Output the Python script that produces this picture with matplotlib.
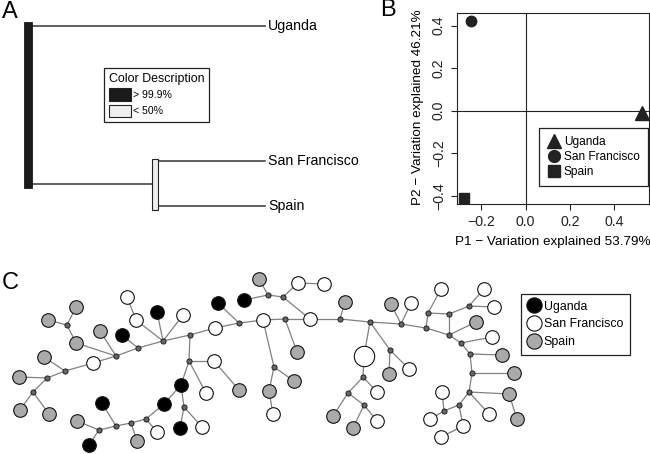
import matplotlib.pyplot as plt
from matplotlib.patches import Rectangle, Patch
from matplotlib.lines import Line2D
from matplotlib.collections import LineCollection

plt.rcParams['font.family'] = ['Liberation Sans', 'DejaVu Sans']

W, H = 650, 454

## A: tree (branch lengths, tip slots)
tip_names = ["Uganda", "San Francisco", "Spain"]
tip_slot = [0, 3, 4]
tip_len = [1.0, 1.0, 1.0]
clade_x = 0.515
clade_slot = 3.5
support_labels = ["> 99.9%", "< 50%"]
support_colors = ["#1a1a1a", "#eeeeee"]

## B: PCA
pca_groups = ["Uganda", "San Francisco", "Spain"]
pc1 = [0.525, -0.247, -0.277]
pc2 = [-0.010, 0.424, -0.410]
pca_markers = ["^", "o", "s"]
pc1_var = 53.79
pc2_var = 46.21

## C: haplotype network  (g=Spain, w=San Francisco, b=Uganda, s=median vector, W=big SF)
node_x = [76, 48, 67, 76, 100, 122, 127, 136, 157, 163, 138, 116, 93, 44, 65, 47, 19, 33, 20, 49,
          102, 77, 99, 89, 116, 137, 131, 146, 157, 164, 183, 190, 215, 239, 263, 285, 310, 189, 214, 239,
          181, 206, 184, 180, 202, 218, 244, 259, 268, 283, 298, 324, 297, 274, 294, 269, 273, 340, 345, 370,
          364, 363, 377, 348, 333, 364, 353, 377, 390, 389, 409, 401, 391, 411, 426, 428, 441, 449, 469, 484,
          494, 449, 476, 461, 492, 470, 502, 472, 514, 469, 509, 517, 489, 459, 444, 442, 430, 463, 441]
node_y = [307, 320, 325, 343, 331, 335, 297, 320, 312, 341, 348, 356, 363, 357, 371, 378, 377, 392, 410, 414,
          403, 421, 430, 445, 426, 441, 423, 419, 432, 404, 315, 335, 328, 323, 320, 319, 319, 361, 361, 390,
          385, 393, 407, 428, 427, 303, 300, 279, 295, 297, 283, 284, 352, 367, 381, 391, 414, 319, 302, 322,
          356, 377, 392, 393, 416, 405, 428, 421, 350, 374, 369, 324, 304, 303, 328, 313, 289, 314, 306, 289,
          307, 335, 322, 343, 337, 354, 355, 373, 373, 392, 394, 419, 414, 405, 411, 392, 419, 426, 437]
node_kind = list("ggsggbwwbs" "sswgssgsgg" "bgsbsgsswb" "wswswswswg" "bwsbwbbgss"
                 "wwgsggwsgs" "Wswsgsgwsg" "wsgwsswssw" "wsgswsgsgs" "ggwsswwww")
edges = [(0, 2), (1, 2), (2, 3), (3, 11), (4, 11), (5, 10), (12, 11), (11, 10), (10, 9), (9, 7), (7, 6),
         (9, 8), (9, 30), (9, 31), (12, 14), (14, 13), (14, 15), (15, 16), (15, 17), (17, 18), (17, 19),
         (31, 32), (32, 33), (33, 34), (34, 35), (35, 36), (36, 57), (57, 59), (59, 71), (71, 74), (74, 81),
         (81, 83), (83, 85), (85, 87), (87, 89), (89, 93), (93, 94),
         (31, 37), (37, 38), (38, 39), (37, 41), (37, 40), (40, 29), (40, 42), (42, 43), (42, 44),
         (29, 27), (27, 26), (26, 24), (24, 22), (27, 28), (26, 25), (24, 20), (22, 21), (22, 23),
         (33, 45), (46, 48), (47, 48), (48, 49), (49, 50), (50, 51), (49, 36),
         (34, 53), (53, 55), (55, 56), (53, 54), (35, 52),
         (57, 58), (59, 60), (60, 61), (61, 62), (61, 63), (63, 64), (63, 65), (65, 66), (65, 67),
         (59, 68), (68, 69), (68, 70), (71, 72), (71, 73),
         (74, 75), (75, 76), (75, 77), (77, 81), (77, 78), (78, 79), (78, 80), (81, 82), (83, 84),
         (85, 86), (87, 88), (89, 90), (90, 91), (89, 92), (93, 97), (97, 98), (94, 95), (94, 96)]
net_groups = ["Uganda", "San Francisco", "Spain"]

fig = plt.figure(figsize=(W / 100, H / 100), dpi=100)


def px_axes(x0, y0, x1, y1):
    return fig.add_axes([x0 / W, 1 - y1 / H, (x1 - x0) / W, (y1 - y0) / H])


line_col = "#333333"

##### A
axA = px_axes(0, 0, 330, 230)
axA.set_xlim(-32 / 233, 298 / 233)
axA.set_ylim((230 - 26) / 45, -26 / 45)
axA.axis("off")

bw_root, bw_clade = 8 / 233, 6 / 233
# uganda branch
axA.plot([0, tip_len[0]], [tip_slot[0], tip_slot[0]], color=line_col, lw=1.1)
# clade stem
axA.plot([0, clade_x], [clade_slot, clade_slot], color=line_col, lw=1.1)
for i in (1, 2):
    axA.plot([clade_x + bw_clade, tip_len[i]], [tip_slot[i], tip_slot[i]], color=line_col, lw=1.1)
for i, name in enumerate(tip_names):
    axA.text(tip_len[i] + 3 / 233, tip_slot[i], name, ha="left", va="center", fontsize=10.2)
axA.add_patch(Rectangle((-bw_root, tip_slot[0] - 0.09), bw_root, clade_slot + 0.19,
                        fc=support_colors[0], ec=support_colors[0], lw=0.6, zorder=3))
axA.add_patch(Rectangle((clade_x, tip_slot[1] - 0.045), bw_clade, tip_slot[2] - tip_slot[1] + 0.135,
                        fc=support_colors[1], ec="#222222", lw=0.8, zorder=3))

handlesA = [Patch(fc=c, ec="#222222", lw=0.8) for c in support_colors]
legA = axA.legend(handlesA, support_labels, title="Color Description", loc="upper left",
                  bbox_to_anchor=(104 / 330, 1 - 68 / 230), borderaxespad=0, fontsize=7.6,
                  title_fontsize=8.9, alignment="left", fancybox=False, edgecolor="#222222",
                  framealpha=1, handlelength=2.1, handleheight=1.45, handletextpad=0.2,
                  labelspacing=0.35, borderpad=0.45)
legA.get_frame().set_linewidth(0.9)

##### B
axB = px_axes(457, 13, 649, 204)
axB.set_xlim(-0.309, 0.557)
axB.set_ylim(-0.439, 0.46)
axB.axvline(0, color="#222222", lw=0.8)
axB.axhline(0, color="#222222", lw=0.8)
for x, y, m in zip(pc1, pc2, pca_markers):
    axB.plot(x, y, marker=m, ms=9.5 if m == "^" else 7.5, color="#222222", ls="none", clip_on=False)
axB.set_xticks([-0.2, 0.0, 0.2, 0.4])
axB.set_yticks([-0.4, -0.2, 0.0, 0.2, 0.4])
axB.set_xticklabels([f"{v:.1f}".replace("-", "\u2212") for v in [-0.2, 0.0, 0.2, 0.4]])
axB.set_yticklabels([f"{v:.1f}".replace("-", "\u2212") for v in [-0.4, -0.2, 0.0, 0.2, 0.4]],
                    rotation=90, va="center")
axB.tick_params(direction="out", length=4, width=0.8, labelsize=10.2, pad=4, colors="#222222")
for sp in axB.spines.values():
    sp.set_linewidth(0.8)
    sp.set_color("#222222")
axB.set_xlabel(f"P1 \u2212 Variation explained {pc1_var:.2f}%", fontsize=9.7)
axB.set_ylabel(f"P2 \u2212 Variation explained {pc2_var:.2f}%", fontsize=9.7)
axB.xaxis.set_label_coords(0.5, -0.17)
axB.yaxis.set_label_coords(-0.17, 0.508)
handlesB = [Line2D([], [], marker=m, color="#222222", ls="none", ms=9.5 if m == "^" else 8.5)
            for m in pca_markers]
legB = axB.legend(handlesB, pca_groups, loc="lower right", bbox_to_anchor=(0.995, 0.094),
                  borderaxespad=0, fontsize=8.6, fancybox=False, edgecolor="#222222",
                  framealpha=1, handlelength=1.0, handletextpad=0.35, labelspacing=0.22,
                  borderpad=0.7)
legB.get_frame().set_linewidth(0.9)

##### C
axC = px_axes(0, 265, 650, 454)
axC.set_xlim(0, 650)
axC.set_ylim(454, 265)
axC.axis("off")
segs = [[(node_x[a], node_y[a]), (node_x[b], node_y[b])] for a, b in edges]
axC.add_collection(LineCollection(segs, colors="#808080", linewidths=0.9, zorder=1))
styles = {"b": ("#000000", 96), "w": ("#ffffff", 96), "g": ("#aaaaaa", 96),
          "W": ("#ffffff", 215), "s": ("#666666", 14)}
for kind, (fc, size) in styles.items():
    xs = [x for x, k in zip(node_x, node_kind) if k == kind]
    ys = [y for y, k in zip(node_y, node_kind) if k == kind]
    axC.scatter(xs, ys, s=size, c=fc, edgecolors="#111111", linewidths=0.8 if kind != "s" else 0.6,
                zorder=2)
handlesC = [Line2D([], [], marker="o", ls="none", ms=11, mfc=c, mec="#111111", mew=0.8)
            for c in ["#000000", "#ffffff", "#aaaaaa"]]
legC = axC.legend(handlesC, net_groups, loc="upper left", bbox_to_anchor=(521 / 650, (454 - 294) / 189),
                  borderaxespad=0, fontsize=8.9, fancybox=False, edgecolor="#222222",
                  framealpha=1, handlelength=1.0, handletextpad=0.3, labelspacing=0.45,
                  borderpad=0.55)
legC.get_frame().set_linewidth(0.9)

fig.text(10 / W, 1 - 12 / H, "A", fontsize=17, ha="center", va="center")
fig.text(388 / W, 1 - 10 / H, "B", fontsize=17, ha="center", va="center")
fig.text(10 / W, 1 - 283 / H, "C", fontsize=17, ha="center", va="center")

fig.savefig("out.png", dpi=100)
